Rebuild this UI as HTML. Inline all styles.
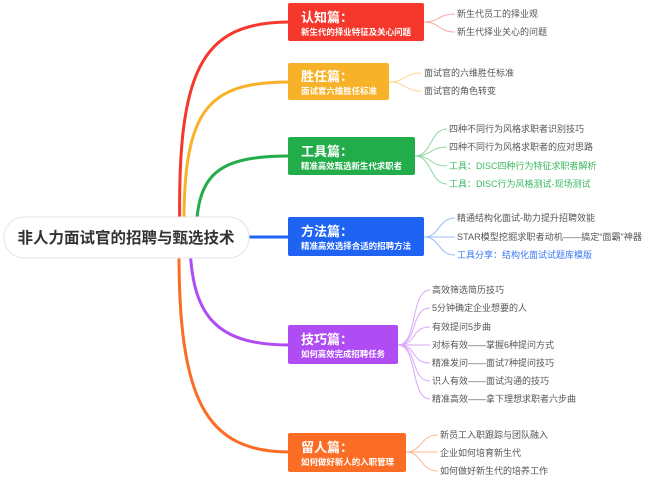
<!DOCTYPE html>
<html><head><meta charset="utf-8"><style>
html,body{margin:0;padding:0;background:#fff;}
svg{display:block;font-family:"Liberation Sans","Noto Sans CJK SC",sans-serif;}
.l{font-size:9px;fill:#555;}
.h{font-size:13px;font-weight:bold;fill:#fff;}
.s{font-size:8.5px;font-weight:bold;fill:#fff;}
</style></head><body>
<svg width="658" height="479" viewBox="0 0 658 479" xmlns="http://www.w3.org/2000/svg">
<g fill="none" stroke-width="3">
<path d="M180 240 C176 70 200 22 290 22" stroke="#f5372c"/>
<path d="M184 240 C182 110 205 82 290 82" stroke="#f7b22a"/>
<path d="M196 240 C196 175 215 156 290 156" stroke="#22ac4a"/>
<path d="M249 237 L290 237" stroke="#1f63f3"/>
<path d="M190 245 C192 320 220 345 290 345" stroke="#b04cf3"/>
<path d="M179 245 C178 400 205 452 290 452" stroke="#fb6d25"/>
</g>
<g fill="none" stroke-width="1">
<g stroke="#f9aaa3"><path d="M424 22 C440 22 438 14 455 14"/><path d="M424 22 C440 22 438 32 455 32"/></g>
<g stroke="#fbd88d"><path d="M389 82 C405 82 405 73 421 73"/><path d="M389 82 C405 82 405 91 421 91"/></g>
<g stroke="#8fd6a4"><path d="M415 156 C432 156 430 129 447 129"/><path d="M415 156 C432 156 430 147 447 147"/><path d="M415 156 C432 156 430 166 447 166"/><path d="M415 156 C432 156 430 184 447 184"/></g>
<g stroke="#99b8f9"><path d="M424 237 C440 237 438 218 455 218"/><path d="M424 237 L455 237"/><path d="M424 237 C440 237 438 255 455 255"/></g>
<g stroke="#dba6f9"><path d="M398 345 C418 345 410 290 430 290"/><path d="M398 345 C418 345 410 308 430 308"/><path d="M398 345 C418 345 410 327 430 327"/><path d="M398 345 L430 345"/><path d="M398 345 C418 345 410 363 430 363"/><path d="M398 345 C418 345 410 381 430 381"/><path d="M398 345 C418 345 410 399 430 399"/></g>
<g stroke="#fdb892"><path d="M406 452 C422 452 420 435 438 435"/><path d="M406 452 L438 452"/><path d="M406 452 C422 452 420 471 438 471"/></g>
</g>
<rect x="4" y="217" width="245" height="41" rx="20" fill="#fff" stroke="#e4e4e4"/>
<text x="126" y="243" text-anchor="middle" font-size="15.5" font-weight="bold" fill="#333">非人力面试官的招聘与甄选技术</text>

<rect x="288" y="3" width="136" height="38" rx="2" fill="#f5372c"/>
<text x="301" y="22" class="h">认知篇：</text><text x="301" y="35" class="s" textLength="110" lengthAdjust="spacingAndGlyphs">新生代的择业特征及关心问题</text>
<rect x="288" y="63" width="101" height="37" rx="2" fill="#f7b22a"/>
<text x="301" y="81" class="h">胜任篇：</text><text x="301" y="94" class="s" textLength="76" lengthAdjust="spacingAndGlyphs">面试官六维胜任标准</text>
<rect x="288" y="137" width="127" height="38" rx="2" fill="#22ac4a"/>
<text x="301" y="156" class="h">工具篇：</text><text x="301" y="169" class="s" textLength="101" lengthAdjust="spacingAndGlyphs">精准高效甄选新生代求职者</text>
<rect x="288" y="217" width="136" height="39" rx="2" fill="#1f63f3"/>
<text x="301" y="236" class="h">方法篇：</text><text x="301" y="249" class="s" textLength="110" lengthAdjust="spacingAndGlyphs">精准高效选择合适的招聘方法</text>
<rect x="288" y="325" width="110" height="39" rx="2" fill="#b04cf3"/>
<text x="301" y="344" class="h">技巧篇：</text><text x="301" y="357" class="s" textLength="84" lengthAdjust="spacingAndGlyphs">如何高效完成招聘任务</text>
<rect x="288" y="433" width="118" height="39" rx="2" fill="#fb6d25"/>
<text x="301" y="452" class="h">留人篇：</text><text x="301" y="465" class="s" textLength="93" lengthAdjust="spacingAndGlyphs">如何做好新人的入职管理</text>

<text x="457" y="17" class="l">新生代员工的择业观</text>
<text x="457" y="35" class="l">新生代择业关心的问题</text>
<text x="424" y="76" class="l">面试官的六维胜任标准</text>
<text x="424" y="94" class="l">面试官的角色转变</text>
<text x="449" y="132" class="l">四种不同行为风格求职者识别技巧</text>
<text x="449" y="150" class="l">四种不同行为风格求职者的应对思路</text>
<text x="449" y="169" class="l" style="fill:#3bb862">工具：DISC四种行为特征求职者解析</text>
<text x="449" y="187" class="l" style="fill:#3bb862">工具：DISC行为风格测试-现场测试</text>
<text x="457" y="221" class="l">精通结构化面试-助力提升招聘效能</text>
<text x="457" y="240" class="l" textLength="185" lengthAdjust="spacingAndGlyphs">STAR模型挖掘求职者动机——搞定“面霸”神器</text>
<text x="457" y="258" class="l" style="fill:#3a78f5">工具分享：结构化面试试题库模版</text>
<text x="432" y="293" class="l">高效筛选简历技巧</text>
<text x="432" y="311" class="l">5分钟确定企业想要的人</text>
<text x="432" y="330" class="l">有效提问5步曲</text>
<text x="432" y="348" class="l">对标有效——掌握6种提问方式</text>
<text x="432" y="366" class="l">精准发问——面试7种提问技巧</text>
<text x="432" y="384" class="l">识人有效——面试沟通的技巧</text>
<text x="432" y="402" class="l">精准高效——拿下理想求职者六步曲</text>
<text x="440" y="438" class="l">新员工入职跟踪与团队融入</text>
<text x="440" y="456" class="l">企业如何培育新生代</text>
<text x="440" y="474" class="l">如何做好新生代的培养工作</text>
</svg>
</body></html>
